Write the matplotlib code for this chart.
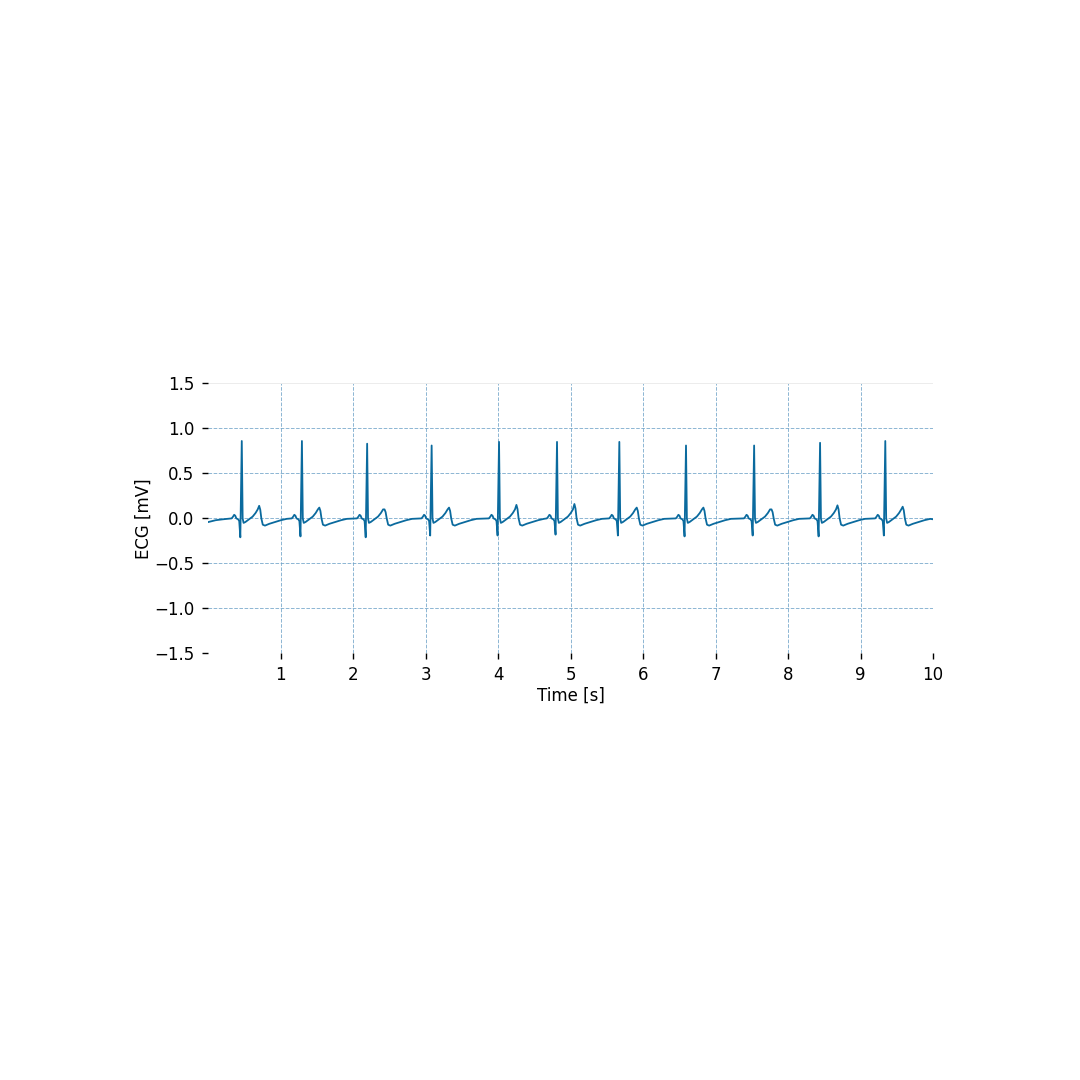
import matplotlib
matplotlib.use("Agg")
import matplotlib.pyplot as plt
import numpy as np

# beat-by-beat values (seconds, mV)
r_times = [0.46, 1.29, 2.19, 3.08, 4.01, 4.81, 5.67, 6.59, 7.53, 8.44, 9.34]
r_amps = [0.86, 0.86, 0.83, 0.81, 0.85, 0.85, 0.85, 0.81, 0.81, 0.84, 0.86]
q_amps = [-0.21, -0.20, -0.21, -0.19, -0.19, -0.18, -0.19, -0.20, -0.19, -0.20, -0.19]
t_amps = [0.14, 0.12, 0.10, 0.12, 0.15, 0.16, 0.12, 0.12, 0.10, 0.145, 0.13]

# shape of one beat around the R peak (offset in s, level in mV)
pre_offsets = [-0.14, -0.12, -0.105, -0.09, -0.075, -0.05, -0.035]
pre_values = [0.0, 0.02, 0.04, 0.03, 0.0, -0.01, -0.03]
post_offsets = [0.012, 0.025, 0.05, 0.10, 0.15, 0.19, 0.22]
post_values = [0.0, -0.05, -0.04, -0.01, 0.02, 0.06, 0.10]
tail_offsets = [0.255, 0.27, 0.29, 0.32, 0.38, 0.46, 0.54, 0.62]
tail_values = [0.09, 0.0, -0.07, -0.08, -0.06, -0.04, -0.02, -0.005]

start_t = [0.0, 0.1, 0.2]
start_v = [-0.04, -0.02, -0.01]
end_t = [10.0]
end_v = [-0.01]

t = list(start_t)
v = list(start_v)
for tr, ra, qa, ta in zip(r_times, r_amps, q_amps, t_amps):
    t += [tr + o for o in pre_offsets]
    v += pre_values
    t += [tr - 0.02, tr]
    v += [qa, ra]
    t += [tr + o for o in post_offsets]
    v += post_values
    t += [tr + 0.24]
    v += [ta]
    t += [tr + o for o in tail_offsets]
    v += [x * ta / 0.13 if i == 0 else x for i, x in enumerate(tail_values)]
t += end_t
v += end_v

fig = plt.figure(figsize=(10.8, 10.8), dpi=100)
ax = fig.add_axes([0.193, 0.395, 0.671, 0.25])

ax.plot(t, v, color='#0a6a9e', lw=1.3)

ax.set_xlim(0, 10)
ax.set_ylim(-1.5, 1.5)
ax.set_xticks(range(1, 11))
ax.set_yticks([-1.5, -1.0, -0.5, 0.0, 0.5, 1.0, 1.5])
ax.grid(True, color='#6fa3c8', linestyle='--', linewidth=0.7, alpha=0.8)
# the lines on the frame edges are barely visible in the original
for gl in (ax.get_ygridlines()[0], ax.get_ygridlines()[-1]):
    gl.set_color('#ececec')
    gl.set_linestyle('-')
    gl.set_alpha(1)
ax.get_xgridlines()[-1].set_visible(False)
for s in ax.spines.values():
    s.set_visible(False)
ax.tick_params(labelsize=12, length=4, width=1)
ax.tick_params(axis='x', pad=5)
ax.tick_params(axis='y', pad=6)
ax.set_xlabel('Time [s]', fontsize=12, labelpad=2)
ax.set_ylabel('ECG [mV]', fontsize=12, labelpad=1)

fig.savefig('out.png', dpi=100)
